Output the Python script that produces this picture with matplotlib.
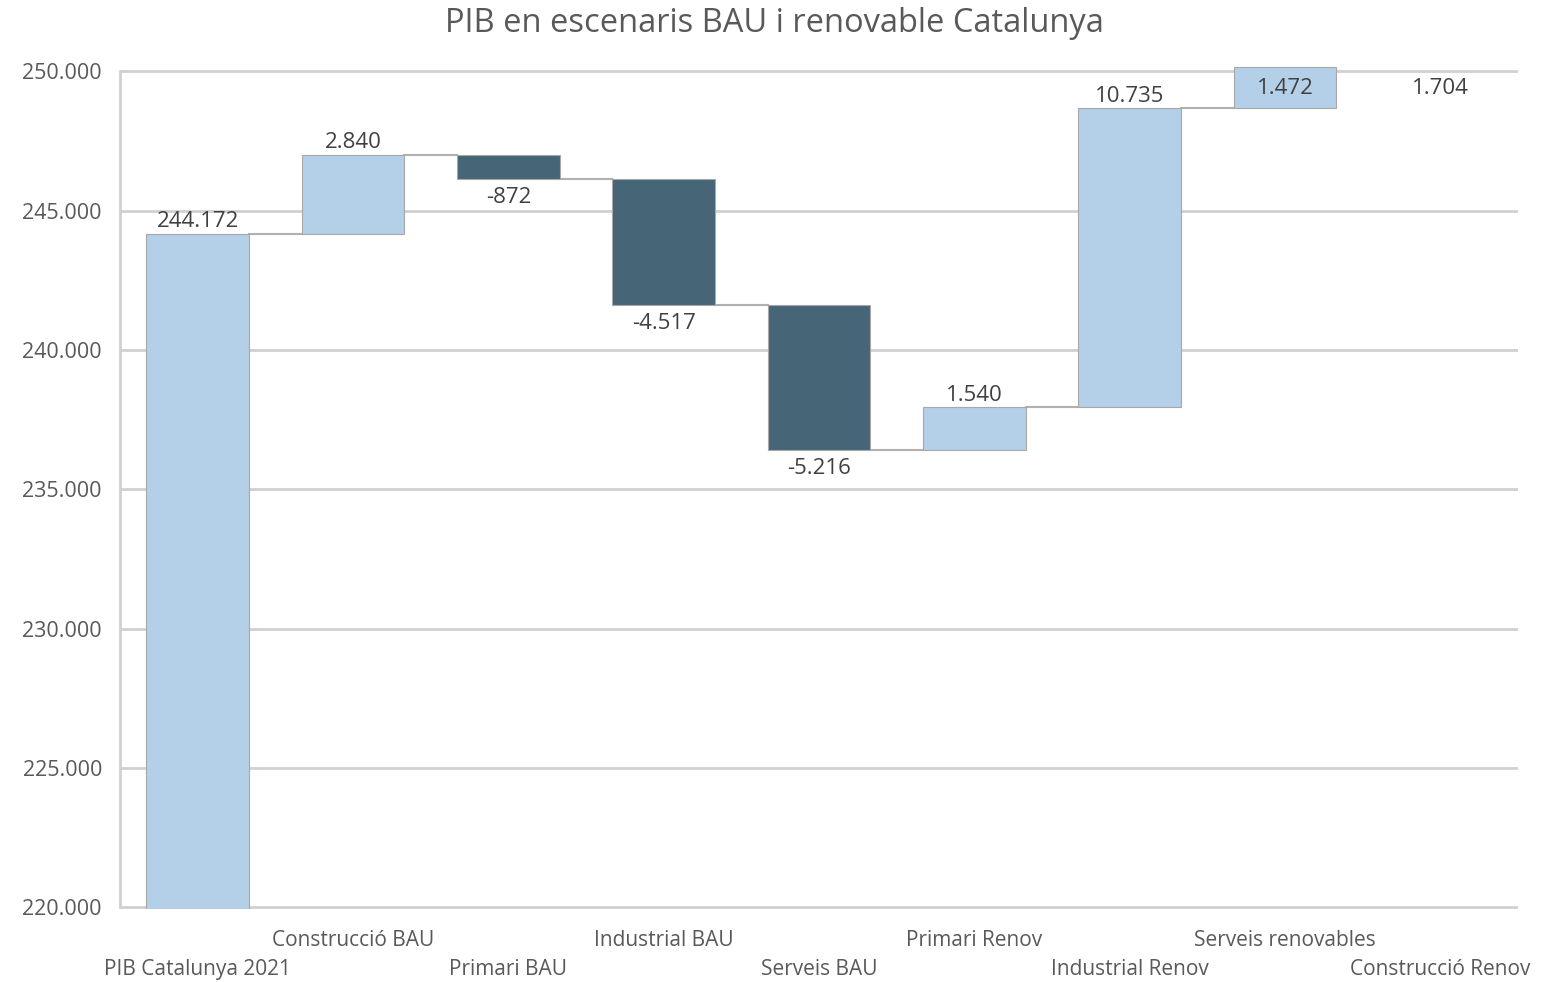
import numpy as np
import matplotlib.pyplot as plt

plt.rcParams['font.family'] = ['Open Sans', 'DejaVu Sans']

categories = ['PIB Catalunya 2021', 'Construcció BAU', 'Primari BAU', 'Industrial BAU',
              'Serveis BAU', 'Primari Renov', 'Industrial Renov', 'Serveis renovables',
              'Construcció Renov']
deltas = [244172, 2840, -872, -4517, -5216, 1540, 10735, 1472, 1704]

light = '#B4CFE8'
dark = '#466678'
grid_c = '#D0D0D0'
text_c = '#595959'
y_min, y_max = 220000, 250000

def fmt(v):
    s = f'{abs(v):,}'.replace(',', '.')
    return '-' + s if v < 0 else s

# waterfall geometry
ends = np.cumsum(deltas)
starts = np.concatenate([[y_min], ends[:-1]])
x = np.arange(len(deltas))
width = 0.66

fig = plt.figure(figsize=(15.59, 9.82), dpi=100)
ax = fig.add_axes([0.077, 0.074, 0.8967, 0.859])
ax.set_xlim(-0.5, len(deltas) - 0.5)
ax.set_ylim(y_min - 80, y_max + 200)

for s in ['top', 'right', 'bottom']:
    ax.spines[s].set_visible(False)
ax.spines['left'].set_color(grid_c)
ax.spines['left'].set_linewidth(2)
ax.spines['left'].set_bounds(y_min, y_max)

ticks = np.arange(y_min, y_max + 1, 5000)
ax.set_yticks(ticks)
ax.set_yticklabels([fmt(int(t)) for t in ticks], fontsize=15.5, color=text_c)
for t in ticks:
    ax.axhline(t, color=grid_c, lw=2, zorder=0)
ax.tick_params(axis='y', length=0, pad=13)

# bars (a bar that starts above the axis top is hidden, like the source chart)
for i, d in enumerate(deltas):
    lo = min(starts[i], ends[i])
    hi = max(starts[i], ends[i])
    if lo > y_max:
        continue
    if i == 0:
        lo = y_min - 70
    c = light if d > 0 else dark
    ax.bar(x[i], hi - lo, bottom=lo, width=width, color=c,
           edgecolor='#A8A8A8', linewidth=0.8, zorder=3)

# connectors
for i in range(len(deltas) - 1):
    y = ends[i]
    if y <= y_max:
        ax.plot([x[i] + width / 2, x[i + 1] - width / 2], [y, y],
                color='#B0B0B0', lw=1.5, zorder=2)

# data labels
for i, d in enumerate(deltas):
    if ends[i] > y_max or (i > 0 and starts[i] > y_max):
        ax.annotate(fmt(d), (x[i], y_max), xytext=(0, -5), textcoords='offset points',
                    ha='center', va='top', fontsize=16, color='#404040')
    elif d > 0:
        ax.annotate(fmt(d), (x[i], ends[i]), xytext=(0, 1), textcoords='offset points',
                    ha='center', va='bottom', fontsize=16, color='#404040')
    else:
        ax.annotate(fmt(d), (x[i], min(starts[i], ends[i])), xytext=(0, -6),
                    textcoords='offset points', ha='center', va='top',
                    fontsize=16, color='#404040')

# staggered category labels
ax.set_xticks(x)
ax.set_xticklabels(categories, fontsize=15, color=text_c)
ax.tick_params(axis='x', length=0)
for i, tick in enumerate(ax.xaxis.get_major_ticks()):
    tick.set_pad(36 if i % 2 == 0 else 15)

fig.text(0.497, 0.976, 'PIB en escenaris BAU i renovable Catalunya', ha='center', va='center',
         fontsize=23.5, color=text_c)

fig.savefig('out.png', dpi=100)
